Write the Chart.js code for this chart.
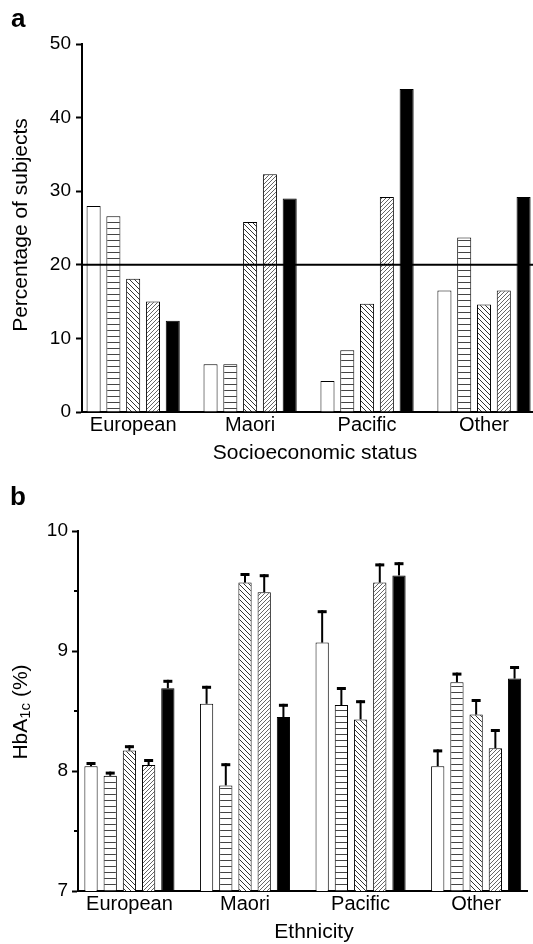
<!DOCTYPE html>
<html>
<head>
<meta charset="utf-8">
<script src="https://cdn.jsdelivr.net/npm/chart.js@4"></script>
<style>
    html, body { margin: 0; padding: 0; background: #fff; }
    #wrap { position: relative; width: 533px; height: 944px; overflow: hidden; }
    .panel { position: absolute; left: 0; width: 533px; }
    #panelA { top: 0; height: 470px; }
    #panelB { top: 470px; height: 474px; }
</style>
</head>
<body>
<div id="wrap">
    <div class="panel" id="panelA"><canvas id="chartA"></canvas></div>
    <div class="panel" id="panelB"><canvas id="chartB"></canvas></div>
</div>
<script>
const groups = ['European', 'Maori', 'Pacific', 'Other'];

// panel a: percentage of subjects in each socioeconomic group (bars 1-5)
const pctQ1 = [28.0, 6.5, 4.2, 16.5];
const pctQ2 = [26.6, 6.5, 8.4, 23.7];
const pctQ3 = [18.1, 25.8, 14.7, 14.6];
const pctQ4 = [15.0, 32.3, 29.2, 16.5];
const pctQ5 = [12.4, 29.0, 43.9, 29.2];
const refLineA = 20; // expected share if evenly spread
const ticksA = [0, 10, 20, 30, 40, 50];

// panel b: mean HbA1c and standard error
const hbaQ1 = [8.04, 8.56, 9.07, 8.04];
const hbaQ2 = [7.96, 7.88, 8.55, 8.74];
const hbaQ3 = [8.17, 9.57, 8.43, 8.47];
const hbaQ4 = [8.05, 9.49, 9.57, 8.19];
const hbaQ5 = [8.69, 8.45, 9.63, 8.77];
const seQ1 = [0.035, 0.15, 0.27, 0.14];
const seQ2 = [0.035, 0.185, 0.15, 0.08];
const seQ3 = [0.045, 0.08, 0.16, 0.13];
const seQ4 = [0.05, 0.15, 0.16, 0.16];
const seQ5 = [0.07, 0.11, 0.11, 0.105];
const ticksB = [7, 8, 9, 10];
const minorTicksB = [7.5, 8.5, 9.5];

Chart.defaults.font.family = "'Liberation Sans', Arial, Helvetica, sans-serif";
Chart.defaults.color = '#000';

// small hatch tiles for the bar fills
function makePattern(kind) {
    const size = kind === 'fwd' ? 4 : kind === 'back' ? 5 : 6;
    const c = document.createElement('canvas');
    c.width = size;
    c.height = size;
    const g = c.getContext('2d');
    g.fillStyle = '#fff';
    g.fillRect(0, 0, size, size);
    if (kind === 'horiz') {
        g.fillStyle = '#444';
        g.fillRect(0, 0, size, 1);
    } else if (kind === 'back') {
        g.fillStyle = '#333';
        for (let i = 0; i < size; i++) g.fillRect(i, i, 1, 1);
    } else if (kind === 'fwd') {
        g.fillStyle = '#666';
        for (let i = 0; i < size; i++) g.fillRect(size - 1 - i, i, 1, 1);
    }
    return g.createPattern(c, 'repeat');
}

const fills = ['#fff', makePattern('horiz'), makePattern('back'), makePattern('fwd'), '#000'];

function makeDatasets(seriesList, catPct, barPct) {
    return seriesList.map((vals, k) => ({
        data: vals.map((v, i) => ({ x: i, y: v })),
        backgroundColor: fills[k],
        borderColor: '#000',
        borderWidth: 1,
        categoryPercentage: catPct,
        barPercentage: barPct
    }));
}

// free text: panel letter and axis titles
const panelText = {
    id: 'panelText',
    afterDraw(chart, args, opts) {
        const ctx = chart.ctx;
        const family = Chart.defaults.font.family;
        ctx.save();
        ctx.fillStyle = '#000';
        ctx.textBaseline = 'alphabetic';

        ctx.font = 'bold 26px ' + family;
        ctx.textAlign = 'left';
        ctx.fillText(opts.letter, opts.letterX, opts.letterY);

        ctx.font = opts.titleSize + 'px ' + family;
        ctx.textAlign = 'center';
        ctx.fillText(opts.xTitle, opts.xTitleX, opts.xTitleY);

        // rotated y title, parts may be subscripts
        ctx.translate(opts.yTitleX, opts.yTitleY);
        ctx.rotate(-Math.PI / 2);
        ctx.textAlign = 'left';
        ctx.textBaseline = 'middle';
        const partFont = p => (p.sub ? Math.round(opts.titleSize * 0.7) : opts.titleSize) + 'px ' + family;
        let total = 0;
        opts.yTitle.forEach(p => { ctx.font = partFont(p); total += ctx.measureText(p.t).width; });
        let x = -total / 2;
        opts.yTitle.forEach(p => {
            ctx.font = partFont(p);
            ctx.fillText(p.t, x, p.sub ? 5 : 0);
            x += ctx.measureText(p.t).width;
        });
        ctx.restore();
    }
};

const refLine = {
    id: 'refLine',
    afterDatasetsDraw(chart, args, opts) {
        const { ctx, chartArea, scales } = chart;
        const y = scales.y.getPixelForValue(opts.value);
        ctx.save();
        ctx.strokeStyle = '#000';
        ctx.lineWidth = 2;
        ctx.beginPath();
        ctx.moveTo(chartArea.left, y);
        ctx.lineTo(chartArea.right, y);
        ctx.stroke();
        ctx.restore();
    }
};

const errorBars = {
    id: 'errorBars',
    afterDatasetsDraw(chart, args, opts) {
        const { ctx, scales } = chart;
        ctx.save();
        ctx.fillStyle = '#000';
        chart.data.datasets.forEach((ds, k) => {
            const meta = chart.getDatasetMeta(k);
            meta.data.forEach((bar, i) => {
                const top = scales.y.getPixelForValue(ds.data[i].y + opts.errors[k][i]);
                ctx.fillRect(bar.x - 1, top, 2, bar.y - top);
                ctx.fillRect(bar.x - 4.5, top, 9, 3);
            });
        });
        ctx.restore();
    }
};

const minorTicks = {
    id: 'minorTicks',
    afterDraw(chart, args, opts) {
        const { ctx, chartArea, scales } = chart;
        ctx.save();
        ctx.strokeStyle = '#000';
        ctx.lineWidth = 2;
        opts.values.forEach(v => {
            const y = Math.round(scales.y.getPixelForValue(v));
            ctx.beginPath();
            ctx.moveTo(chartArea.left - 4, y);
            ctx.lineTo(chartArea.left, y);
            ctx.stroke();
        });
        ctx.restore();
    }
};

function xScale(min, max, height) {
    return {
        type: 'linear',
        min: min,
        max: max,
        offset: false,
        bounds: 'data',
        afterBuildTicks: s => { s.ticks = groups.map((g, i) => ({ value: i })); },
        afterFit: s => { s.height = height; },
        grid: { display: false, drawTicks: false, offset: false },
        border: { display: true, color: '#000', width: 2 },
        ticks: {
            callback: v => groups[v],
            font: { size: 20 },
            padding: 1,
            maxRotation: 0,
            autoSkip: false
        }
    };
}

function yScale(min, max, tickValues, width, pad) {
    return {
        min: min,
        max: max,
        afterBuildTicks: s => { s.ticks = tickValues.map(v => ({ value: v })); },
        afterFit: s => { s.width = width; },
        grid: { drawOnChartArea: false, drawTicks: true, tickLength: 6, tickWidth: 2, tickColor: '#000' },
        border: { display: true, color: '#000', width: 2 },
        ticks: { font: { size: 19 }, padding: pad }
    };
}

new Chart(document.getElementById('chartA'), {
    type: 'bar',
    data: { datasets: makeDatasets([pctQ1, pctQ2, pctQ3, pctQ4, pctQ5], 0.846, 0.71) },
    options: {
        responsive: true,
        maintainAspectRatio: false,
        animation: false,
        layout: { padding: { top: 44, right: 0, bottom: 0, left: 0 } },
        scales: {
            x: xScale(-0.4376, 3.419, 58),
            y: yScale(0, 50, ticksA, 82, 5)
        },
        plugins: {
            legend: { display: false },
            tooltip: { enabled: false },
            refLine: { value: refLineA },
            panelText: {
                letter: 'a', letterX: 11, letterY: 27,
                titleSize: 21,
                xTitle: 'Socioeconomic status', xTitleX: 315, xTitleY: 459,
                yTitle: [{ t: 'Percentage of subjects' }], yTitleX: 21, yTitleY: 225
            }
        }
    },
    plugins: [refLine, panelText]
});

new Chart(document.getElementById('chartB'), {
    type: 'bar',
    data: { datasets: makeDatasets([hbaQ1, hbaQ2, hbaQ3, hbaQ4, hbaQ5], 0.831, 0.69) },
    options: {
        responsive: true,
        maintainAspectRatio: false,
        animation: false,
        layout: { padding: { top: 61, right: 6, bottom: 0, left: 0 } },
        scales: {
            x: xScale(-0.445, 3.44, 53),
            y: yScale(7, 10, ticksB, 78, 4)
        },
        plugins: {
            legend: { display: false },
            tooltip: { enabled: false },
            errorBars: { errors: [seQ1, seQ2, seQ3, seQ4, seQ5] },
            minorTicks: { values: minorTicksB },
            panelText: {
                letter: 'b', letterX: 10, letterY: 35,
                titleSize: 21,
                xTitle: 'Ethnicity', xTitleX: 314, xTitleY: 468,
                yTitle: [{ t: 'HbA' }, { t: '1c', sub: true }, { t: ' (%)' }], yTitleX: 21, yTitleY: 242
            }
        }
    },
    plugins: [errorBars, minorTicks, panelText]
});
</script>
</body>
</html>
